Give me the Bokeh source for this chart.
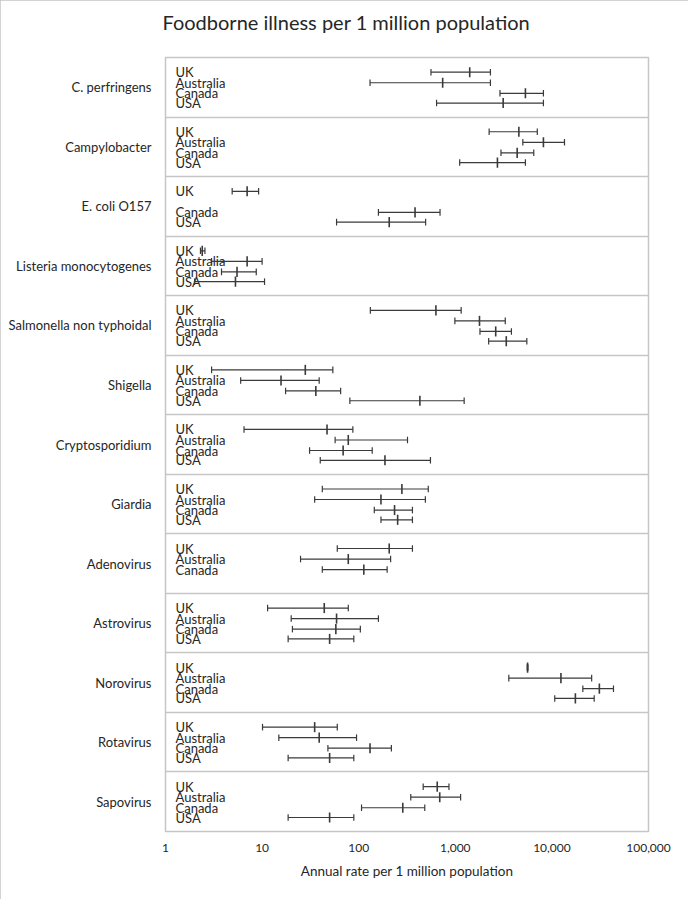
import math
from bokeh.plotting import figure
from bokeh.models import Range1d, FixedTicker, ColumnDataSource, NumeralTickFormatter, Title
from bokeh.core.properties import value
from bokeh.embed import file_html
from bokeh.resources import INLINE

NaN = float("nan")

title_text = "Foodborne illness per 1 million population"
categories = ["C. perfringens", "Campylobacter", "E. coli O157", "Listeria monocytogenes",
              "Salmonella non typhoidal", "Shigella", "Cryptosporidium", "Giardia",
              "Adenovirus", "Astrovirus", "Norovirus", "Rotavirus", "Sapovirus"]
countries = ["UK", "Australia", "Canada", "USA"]

uk_mid = [1410, 4550, 7.0, 2.4, 630, 28, 47, 280, 207, 44, 5600, 35, 650]
uk_low = [560, 2240, 4.9, 2.3, 132, 3.0, 6.5, 42, 60, 11.4, 5550, 10.1, 465]
uk_high = [2310, 7060, 9.2, 2.56, 1150, 54, 87, 525, 360, 78, 5650, 60, 860]

au_mid = [740, 8170, NaN, 7.0, 1780, 15.7, 78, 170, 78, 59, 12400, 39, 690]
au_low = [131, 5000, NaN, 3.0, 990, 6.0, 57, 35, 25, 20, 3580, 14.9, 346]
au_high = [2310, 13500, NaN, 10.0, 3290, 39, 320, 490, 214, 160, 25800, 95, 1135]

ca_mid = [5320, 4370, 383, 5.5, 2620, 36, 69, 235, 113, 58, 31000, 131, 286]
ca_low = [2900, 2970, 160, 3.8, 1800, 17.5, 31, 145, 42, 20.6, 20900, 48, 107]
ca_high = [8170, 6490, 695, 8.7, 3810, 65, 138, 360, 197, 104, 43400, 218, 483]

us_mid = [3130, 2730, 207, 5.3, 3370, 430, 187, 253, NaN, 50, 17500, 50, 50]
us_low = [640, 1110, 59, 2.0, 2215, 81, 40, 170, NaN, 18.6, 10700, 18.6, 18.6]
us_high = [8170, 5320, 493, 10.6, 5500, 1235, 553, 360, NaN, 89, 27400, 89, 89]

x_ticks = [1, 10, 100, 1000, 10000, 100000]

series = [(uk_mid, uk_low, uk_high), (au_mid, au_low, au_high),
          (ca_mid, ca_low, ca_high), (us_mid, us_low, us_high)]
row_offset = [0.247, 0.424, 0.601, 0.765]
cap_h = 0.055
mid_h = 0.085

FONT = "Lato"
TXT = "#262626"
LINE = "#3a3a3a"

W, H = 688, 899
p = figure(width=W, height=H, x_axis_type="log",
           x_range=Range1d(x_ticks[0], x_ticks[-1]),
           y_range=Range1d(len(categories), 0),
           output_backend="svg", toolbar_location=None,
           min_border_left=165, min_border_right=40, min_border_top=57, min_border_bottom=68,
           title=title_text)
# spacer panel between frame and title (pushes the title upward)
p.add_layout(Title(text=" ", text_font_size="10px", standoff=11), "above")

p.title.align = "left"
p.title.offset = -3
p.title.text_font = FONT
p.title.text_font_size = "20px"
p.title.text_font_style = "normal"
p.title.text_color = TXT
p.title.standoff = 0
p.styles = {"outline": "1px solid #c4c4c4", "outline-offset": "-1px"}

p.outline_line_color = "#c6c6c6"
p.outline_line_width = 1.5
p.background_fill_color = "white"
p.border_fill_color = "white"

# x axis
xa = p.xaxis[0]
xa.ticker = FixedTicker(ticks=x_ticks, minor_ticks=[])
xa.formatter = NumeralTickFormatter(format="0,0")
xa.axis_line_color = None
xa.major_tick_line_color = None
xa.minor_tick_line_color = None
xa.major_label_standoff = 6
xa.major_label_text_font = FONT
xa.major_label_text_font_size = "12px"
xa.major_label_text_color = TXT
xa.axis_label = "Annual rate per 1 million population"
xa.axis_label_text_font = FONT
xa.axis_label_text_font_size = "13.5px"
xa.axis_label_text_font_style = "normal"
xa.axis_label_text_color = TXT
xa.axis_label_standoff = 8

# y axis with category names
ya = p.yaxis[0]
centers = [i + 0.5 for i in range(len(categories))]
ya.ticker = FixedTicker(ticks=centers, minor_ticks=[])
ya.major_label_overrides = {c: name for c, name in zip(centers, categories)}
ya.axis_line_color = None
ya.major_tick_line_color = None
ya.minor_tick_line_color = None
ya.major_label_standoff = 8
ya.major_label_text_font = FONT
ya.major_label_text_font_size = "13px"
ya.major_label_text_color = TXT

p.xgrid.visible = False
p.ygrid.ticker = FixedTicker(ticks=list(range(1, len(categories))), minor_ticks=[])
p.ygrid.grid_line_color = "#c6c6c6"
p.ygrid.grid_line_width = 1.5

rows = dict(y=[], lo=[], hi=[], mid=[], label=[])
for ci, (mids, lows, highs) in enumerate(series):
    for k in range(len(categories)):
        if math.isnan(mids[k]):
            continue
        rows["y"].append(k + row_offset[ci])
        rows["lo"].append(lows[k])
        rows["hi"].append(highs[k])
        rows["mid"].append(mids[k])
        rows["label"].append(countries[ci])
src = ColumnDataSource(rows)
src.data["cy0"] = [y - cap_h for y in rows["y"]]
src.data["cy1"] = [y + cap_h for y in rows["y"]]
src.data["my0"] = [y - mid_h for y in rows["y"]]
src.data["my1"] = [y + mid_h for y in rows["y"]]
src.data["x0"] = [x_ticks[0]] * len(rows["y"])

p.text(x="x0", y="y", text="label", source=src, x_offset=10,
       text_baseline="middle", text_align="left", text_font=value(FONT),
       text_font_size="13px", text_color=TXT)
p.segment(x0="lo", y0="y", x1="hi", y1="y", source=src, line_color=LINE, line_width=1.2)
p.segment(x0="lo", y0="cy0", x1="lo", y1="cy1", source=src, line_color=LINE, line_width=1.2)
p.segment(x0="hi", y0="cy0", x1="hi", y1="cy1", source=src, line_color=LINE, line_width=1.2)
p.segment(x0="mid", y0="my0", x1="mid", y1="my1", source=src, line_color=LINE, line_width=1.6)

open("out.html", "w").write(file_html(p, INLINE))
